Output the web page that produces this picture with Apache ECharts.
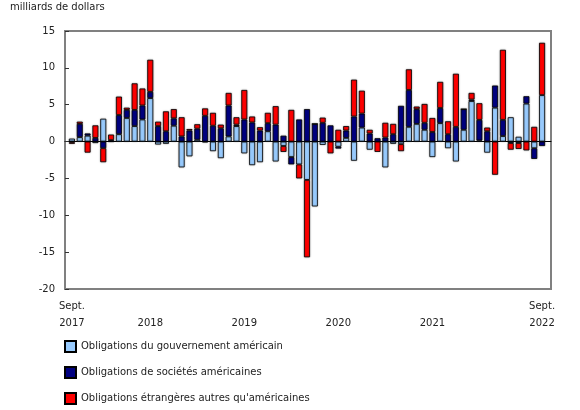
<!DOCTYPE html>
<html>
<head>
<meta charset="utf-8">
<script src="https://cdn.jsdelivr.net/npm/echarts@6/dist/echarts.min.js"></script>
<style>
  html, body { margin: 0; padding: 0; background: #fff; }
  #ChartBar { width: 580px; height: 410px; }
</style>
</head>
<body>
<div id="ChartBar"></div>
<script>
var months = [
  '2017-09', '2017-10', '2017-11', '2017-12',
  '2018-01', '2018-02', '2018-03', '2018-04', '2018-05', '2018-06', '2018-07', '2018-08', '2018-09', '2018-10', '2018-11', '2018-12',
  '2019-01', '2019-02', '2019-03', '2019-04', '2019-05', '2019-06', '2019-07', '2019-08', '2019-09', '2019-10', '2019-11', '2019-12',
  '2020-01', '2020-02', '2020-03', '2020-04', '2020-05', '2020-06', '2020-07', '2020-08', '2020-09', '2020-10', '2020-11', '2020-12',
  '2021-01', '2021-02', '2021-03', '2021-04', '2021-05', '2021-06', '2021-07', '2021-08', '2021-09', '2021-10', '2021-11', '2021-12',
  '2022-01', '2022-02', '2022-03', '2022-04', '2022-05', '2022-06', '2022-07', '2022-08', '2022-09'
];

var seriesNames = [
  'Obligations du gouvernement américain',
  'Obligations de sociétés américaines',
  "Obligations étrangères autres qu'américaines"
];

// milliards de dollars
var govBonds = [
  0.4, 0.6, 0.8, -0.2,
  3.1, 0, 1.0, 3.2, 2.1, 3.0, 5.9, -0.4, -0.3, 2.15, -3.5, -2.0,
  0.25, -0.1, -1.3, -2.25, 0.7, 2.1, -1.6, -3.2, -2.8, 1.4, -2.7, -0.6,
  -2.1, -3.1, -5.2, -8.8, -0.45, 0, -0.7, 0.5, -2.6, 1.9, -1.1, 0,
  -3.5, -0.3, -0.35, 2.0, 2.4, 1.6, -2.1, 2.5, -0.9, -2.7, 1.6, 5.5,
  0.15, -1.5, 4.6, 0.75, 3.3, 0.65, 5.15, -0.9, 6.3
];
var corpBonds = [
  -0.1, 1.8, 0.3, 0.5,
  -0.9, 0.2, 2.6, 1.1, 2.2, 1.9, 0.85, 2.1, 1.4, 1.0, 0.7, 1.5,
  1.5, 3.5, 2.15, 1.8, 4.2, 0.2, 3.0, 2.6, 1.5, 1.1, 2.3, 0.8,
  -1.0, 3.0, 4.4, 2.4, 2.55, 2.2, -0.25, 1.0, 3.4, 1.9, 1.1, 0.45,
  0.55, 1.0, 4.85, 5.0, 2.0, 0.95, 1.3, 2.05, 1.0, 2.0, 2.8, 0.2,
  2.8, 1.4, 3.0, 2.2, -0.2, -0.2, 1.0, -1.45, -0.6
];
var foreignBonds = [
  -0.2, 0.3, -1.5, 1.7,
  -1.9, 0.75, 2.5, 0.3, 3.6, 2.3, 4.35, 0.6, 2.7, 1.25, 2.6, 0.2,
  0.6, 1.0, 1.75, 0.5, 1.7, 1.0, 4.0, 0.8, 0.45, 1.4, 2.5, -0.8,
  4.3, -1.9, -10.5, 0, 0.7, -1.6, 1.6, 0.6, 5.0, 3.1, 0.5, -1.4,
  2.0, 1.4, -0.95, 2.8, 0.35, 2.55, 1.9, 3.55, 1.75, 7.2, 0, 0.9,
  2.25, 0.5, -4.5, 9.5, -0.9, -0.8, -1.2, 2.0, 7.1
];

var yTicks = { min: -20, max: 15, interval: 5 };
var colors = ['#99CCFF', '#000080', '#FF0000'];

function monthLabel(value, index) {
  var parts = value.split('-');
  var last = months.length - 1;
  if (index == 0 || index == last) {
    return 'Sept.\n' + parts[0];
  }
  // l'année au milieu, sauf la dernière (déjà sous Sept.)
  if (parts[1] == '07' && parts[0] != months[last].split('-')[0]) {
    return '\n' + parts[0];
  }
  return '';
}

function makeSeries(name, data, color) {
  return {
    name: name,
    type: 'bar',
    stack: 'total',
    xAxisIndex: 1,
    yAxisIndex: 1,
    barWidth: 6,
    itemStyle: {
      color: color,
      borderColor: '#000',
      borderWidth: 0.8,
      shadowColor: 'rgba(0, 0, 0, 0.35)',
      shadowBlur: 2
    },
    data: data
  };
}

var chart = echarts.init(document.getElementById('ChartBar'));

var option = {
  animation: false,
  textStyle: { fontFamily: 'DejaVu Sans' },
  title: {
    text: 'milliards de dollars',
    left: 10,
    top: 2,
    padding: 0,
    textStyle: { fontSize: 10, fontWeight: 'normal', color: '#222' }
  },
  legend: {
    orient: 'vertical',
    left: 64,
    top: 340,
    padding: 0,
    itemWidth: 11,
    itemHeight: 11,
    itemGap: 13,
    icon: 'rect',
    textStyle: { fontSize: 10, color: '#222' },
    data: seriesNames
  },
  // grid 0 : cadre + axe des y ; grid 1 : les barres
  grid: [
    { left: 65, right: 29, top: 31, bottom: 121, show: true, borderColor: '#808080', borderWidth: 2 },
    { left: 68, right: 34, top: 31, bottom: 121 }
  ],
  xAxis: [
    {
      gridIndex: 0,
      type: 'value',
      min: 0,
      max: 1,
      axisLine: { onZero: true, lineStyle: { color: '#000', width: 1 } },
      axisTick: { show: false },
      axisLabel: { show: false },
      splitLine: { show: false }
    },
    {
      gridIndex: 1,
      type: 'category',
      data: months,
      axisLine: { show: false },
      axisTick: { show: false },
      axisLabel: {
        interval: 0,
        margin: 9,
        fontSize: 10,
        lineHeight: 17,
        color: '#222',
        formatter: monthLabel
      }
    }
  ],
  yAxis: [
    {
      gridIndex: 0,
      type: 'value',
      min: yTicks.min,
      max: yTicks.max,
      interval: yTicks.interval,
      axisLine: { show: false },
      axisTick: { show: true, inside: true, length: 4, lineStyle: { color: '#333' } },
      axisLabel: { fontSize: 10, color: '#222', margin: 10 },
      splitLine: { show: false }
    },
    {
      gridIndex: 1,
      type: 'value',
      min: yTicks.min,
      max: yTicks.max,
      interval: yTicks.interval,
      show: false,
      splitLine: { show: false }
    }
  ],
  series: [
    makeSeries(seriesNames[0], govBonds, colors[0]),
    makeSeries(seriesNames[1], corpBonds, colors[1]),
    makeSeries(seriesNames[2], foreignBonds, colors[2])
  ]
};

chart.setOption(option);
</script>
</body>
</html>
